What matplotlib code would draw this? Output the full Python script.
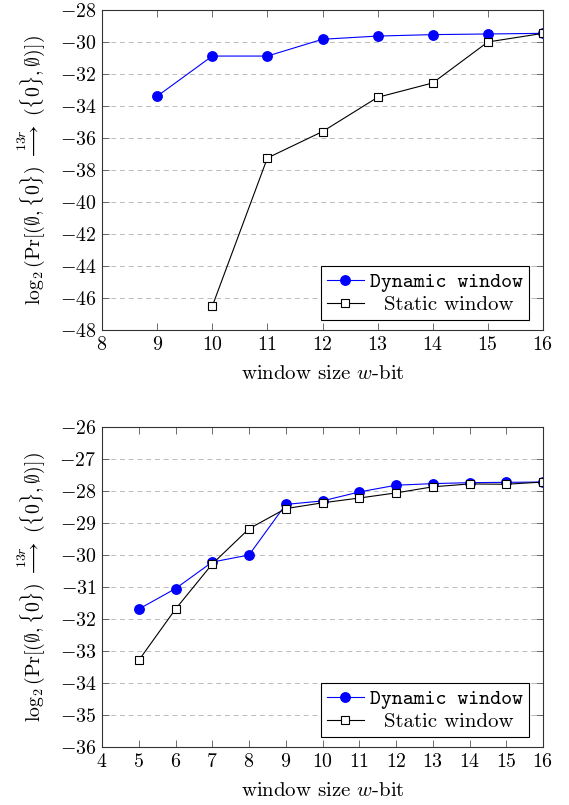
import matplotlib
matplotlib.use("Agg")
import matplotlib.pyplot as plt
from matplotlib.font_manager import FontProperties

plt.rcParams['font.family'] = 'cmr10'
plt.rcParams['mathtext.fontset'] = 'cm'
plt.rcParams['axes.formatter.use_mathtext'] = True
plt.rcParams['axes.unicode_minus'] = True

# Top chart data
top_dyn_x = [9, 10, 11, 12, 13, 14, 15, 16]
top_dyn_y = [-33.39, -30.88, -30.88, -29.83, -29.63, -29.54, -29.5, -29.46]
top_sta_x = [10, 11, 12, 13, 14, 15, 16]
top_sta_y = [-46.52, -37.25, -35.6, -33.46, -32.56, -30.0, -29.46]

# Bottom chart data
bot_dyn_x = [5, 6, 7, 8, 9, 10, 11, 12, 13, 14, 15, 16]
bot_dyn_y = [-31.69, -31.05, -30.22, -30.0, -28.42, -28.31, -28.03, -27.82,
             -27.77, -27.74, -27.73, -27.72]
bot_sta_x = [5, 6, 7, 8, 9, 10, 11, 12, 13, 14, 15, 16]
bot_sta_y = [-33.29, -31.69, -30.28, -29.18, -28.55, -28.37, -28.22, -28.06,
             -27.87, -27.78, -27.79, -27.72]

top_xticks = list(range(8, 17))
top_yticks = list(range(-48, -27, 2))
bot_xticks = list(range(4, 17))
bot_yticks = list(range(-36, -25, 1))

ylabel = r'$\log_2(\mathrm{Pr}[(\emptyset,\{0\})\ \overset{13r}{\longrightarrow}\ (\{0\},\emptyset)])$'
xlabel = r'window size $w$-bit'

fig = plt.figure(figsize=(5.69, 8.05), dpi=100)
ax1 = fig.add_axes([0.1793, 0.5901, 0.775, 0.3975])
ax2 = fig.add_axes([0.1793, 0.0720, 0.775, 0.3976])

tt = FontProperties(family='cmtt10', size=15)

def style(ax, xd, yd, xs, ys, xt, yt, xlim, ylim):
    ax.plot(xd, yd, color='blue', marker='o', markersize=6.8, linewidth=0.8,
            label='Dynamic window')
    ax.plot(xs, ys, color='black', marker='s', markersize=5.5, linewidth=0.8,
            markerfacecolor='white', markeredgewidth=0.8, label='  Static window')
    ax.set_xlim(*xlim)
    ax.set_ylim(*ylim)
    ax.set_xticks(xt)
    ax.set_yticks(yt)
    ax.tick_params(direction='in', top=True, right=True, labelsize=14.3,
                   length=5, width=0.6, color='#555555', pad=4)
    ax.yaxis.grid(True, linestyle=(0, (5, 4)), color='#bbbbbb', linewidth=0.7)
    ax.set_axisbelow(True)
    for s in ax.spines.values():
        s.set_linewidth(0.8)
        s.set_color('#333333')
    ax.set_xlabel(xlabel, fontsize=15, labelpad=8.5)
    ax.set_ylabel(ylabel, fontsize=14.3, labelpad=9)
    leg = ax.legend(loc='lower right', bbox_to_anchor=(0.968, 0.031),
                    fancybox=False, edgecolor='black', framealpha=1,
                    fontsize=15, handlelength=1.75, borderpad=0.3,
                    labelspacing=0.15, handletextpad=0.3, borderaxespad=0)
    leg.get_frame().set_linewidth(0.8)
    texts = leg.get_texts()
    texts[0].set_fontproperties(tt)
    return leg

style(ax1, top_dyn_x, top_dyn_y, top_sta_x, top_sta_y, top_xticks, top_yticks,
      (8, 16), (-48, -28))
style(ax2, bot_dyn_x, bot_dyn_y, bot_sta_x, bot_sta_y, bot_xticks, bot_yticks,
      (4, 16), (-36, -26))

fig.savefig('out.png', dpi=100)
